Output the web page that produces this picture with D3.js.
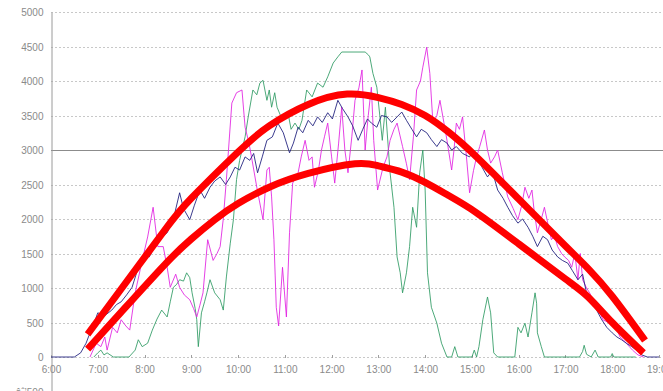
<!DOCTYPE html>
<html>
<head>
    <script src="https://d3js.org/d3.v7.min.js"></script>
    <style>
        body { margin: 0; background: #fff; overflow: hidden; }
        .tick-label { font-family: Arial, "Liberation Sans", sans-serif; font-size: 10px; fill: #8a8a8a; }
    </style>
</head>
<body>
<svg id="chart" width="663" height="391"></svg>
<script>
    const yTicks = [-500, 0, 500, 1000, 1500, 2000, 2500, 3000, 3500, 4000, 4500, 5000];
    const hourTicks = [6, 7, 8, 9, 10, 11, 12, 13, 14, 15, 16, 17, 18, 19];

    const navy = [
        ["6:00", 0], ["6:30", 0], ["6:38", 60], ["6:45", 200], ["6:48", 290], ["6:53", 420], ["7:00", 640],
        ["7:09", 600], ["7:18", 680], ["7:24", 760], ["7:30", 800], ["7:37", 900], ["7:44", 1010], ["7:52", 1300],
        ["8:00", 1500], ["8:06", 1450], ["8:13", 1600], ["8:22", 1740], ["8:29", 1800], ["8:37", 2000], ["8:45", 2380],
        ["8:50", 2150], ["8:58", 1990], ["9:04", 2200], ["9:11", 2420], ["9:17", 2300], ["9:24", 2460], ["9:30", 2550],
        ["9:37", 2610], ["9:44", 2500], ["9:50", 2610], ["9:56", 2750], ["10:02", 2710], ["10:09", 2900], ["10:15", 2850],
        ["10:20", 2950], ["10:25", 2670], ["10:31", 2900], ["10:37", 3140], ["10:44", 3190], ["10:51", 3390], ["10:58", 3250],
        ["11:06", 2960], ["11:11", 3100], ["11:17", 3330], ["11:23", 3250], ["11:30", 3430], ["11:36", 3350], ["11:42", 3480],
        ["11:48", 3400], ["11:55", 3540], ["12:01", 3450], ["12:08", 3720], ["12:14", 3600], ["12:21", 3480], ["12:27", 3350],
        ["12:34", 3140], ["12:40", 3300], ["12:46", 3450], ["12:51", 3390], ["12:58", 3330], ["13:04", 3500], ["13:11", 3480],
        ["13:17", 3400], ["13:24", 3480], ["13:30", 3550], ["13:36", 3430], ["13:43", 3300], ["13:49", 3190], ["13:55", 3300],
        ["14:02", 3250], ["14:08", 3150], ["14:15", 3050], ["14:21", 3150], ["14:28", 3100], ["14:34", 3000], ["14:40", 3050],
        ["14:48", 2950], ["14:57", 2900], ["15:02", 3000], ["15:07", 2900], ["15:13", 2750], ["15:20", 2610], ["15:26", 2700],
        ["15:33", 2420], ["15:40", 2300], ["15:46", 2170], ["15:52", 2050], ["15:59", 1940], ["16:05", 2000], ["16:12", 1880],
        ["16:18", 1750], ["16:24", 1600], ["16:31", 1750], ["16:37", 1700], ["16:43", 1550], ["16:50", 1450], ["16:56", 1400],
        ["17:03", 1360], ["17:09", 1250], ["17:16", 1120], ["17:22", 1200], ["17:27", 930], ["17:33", 800], ["17:40", 680],
        ["17:46", 550], ["17:53", 430], ["18:00", 350], ["18:06", 290], ["18:12", 250], ["18:18", 200], ["18:25", 150],
        ["18:31", 100], ["18:38", 30], ["18:45", 0], ["19:00", 0]
    ];

    const magenta = [
        ["6:50", 0], ["6:58", 200], ["7:04", 150], ["7:09", 290], ["7:12", 100], ["7:19", 430], ["7:25", 350], ["7:30", 540],
        ["7:36", 450], ["7:41", 390], ["7:48", 930], ["7:57", 1400], ["8:04", 1740], ["8:11", 2170], ["8:17", 1600],
        ["8:24", 1600], ["8:29", 1300], ["8:33", 1010], ["8:40", 1200], ["8:45", 1010], ["8:51", 900], ["8:58", 830],
        ["9:03", 700], ["9:07", 580], ["9:11", 750], ["9:15", 930], ["9:21", 1700], ["9:28", 1400], ["9:33", 1500],
        ["9:37", 1600], ["9:41", 2000], ["9:45", 2570], ["9:52", 3680], ["9:58", 3830], ["10:05", 3870], ["10:09", 3330],
        ["10:14", 3100], ["10:18", 2850], ["10:24", 2460], ["10:32", 1990], ["10:37", 2710], ["10:40", 2750], ["10:43", 2320],
        ["10:46", 1700], ["10:49", 720], ["10:52", 450], ["10:57", 1300], ["11:02", 580], ["11:06", 1800], ["11:10", 2520],
        ["11:17", 2670], ["11:21", 2900], ["11:26", 3140], ["11:31", 2850], ["11:35", 2900], ["11:38", 2460], ["11:43", 2700],
        ["11:47", 3000], ["11:51", 3200], ["11:55", 3390], ["12:00", 2900], ["12:04", 2520], ["12:09", 3100], ["12:13", 3620],
        ["12:17", 3000], ["12:21", 2670], ["12:26", 3200], ["12:30", 3720], ["12:35", 3900], ["12:39", 4160], ["12:43", 3000],
        ["12:47", 3500], ["12:51", 3910], ["12:54", 3140], ["12:59", 2420], ["13:06", 2750], ["13:11", 2900], ["13:15", 3140],
        ["13:20", 3300], ["13:24", 3390], ["13:31", 3050], ["13:36", 2800], ["13:40", 2570], ["13:45", 3200], ["13:49", 3870],
        ["13:54", 4000], ["13:57", 4200], ["14:02", 4490], ["14:06", 4110], ["14:10", 3390], ["14:15", 3500], ["14:19", 3720],
        ["14:24", 3400], ["14:28", 3140], ["14:34", 2710], ["14:37", 3000], ["14:40", 3390], ["14:44", 3300], ["14:48", 3480],
        ["14:53", 2900], ["14:57", 2380], ["15:02", 2700], ["15:06", 2900], ["15:10", 3050], ["15:16", 3290], ["15:20", 3000],
        ["15:24", 2810], ["15:29", 2900], ["15:33", 3000], ["15:39", 2670], ["15:46", 2320], ["15:53", 2150], ["15:59", 1990],
        ["16:04", 2200], ["16:08", 2460], ["16:13", 2300], ["16:17", 2420], ["16:20", 2100], ["16:24", 1800], ["16:29", 2000],
        ["16:33", 2170], ["16:38", 1900], ["16:42", 1700], ["16:46", 1750], ["16:50", 1600], ["16:55", 1500], ["16:59", 1450],
        ["17:04", 1400], ["17:08", 1300], ["17:12", 1500], ["17:16", 1120], ["17:19", 1500], ["17:22", 1120], ["17:27", 1000],
        ["17:31", 930], ["17:36", 800], ["17:40", 720], ["17:44", 650], ["17:48", 540], ["17:55", 500], ["18:01", 490],
        ["18:06", 400], ["18:10", 290], ["18:14", 250], ["18:18", 200], ["18:22", 150], ["18:26", 100], ["18:33", 30],
        ["18:40", 0]
    ];

    const green = [
        ["6:55", 0], ["7:00", 60], ["7:04", 100], ["7:08", 30], ["7:12", 60], ["7:20", 0], ["7:40", 0], ["7:48", 100],
        ["7:52", 250], ["7:57", 150], ["8:04", 200], ["8:10", 390], ["8:16", 550], ["8:22", 680], ["8:29", 580], ["8:33", 800],
        ["8:37", 1010], ["8:41", 1050], ["8:45", 1120], ["8:50", 1100], ["8:54", 1220], ["8:58", 1150], ["9:01", 930],
        ["9:05", 700], ["9:07", 540], ["9:09", 150], ["9:13", 640], ["9:17", 800], ["9:20", 930], ["9:24", 1120], ["9:30", 930],
        ["9:37", 830], ["9:41", 680], ["9:45", 1160], ["9:50", 1650], ["9:54", 1990], ["9:58", 2570], ["10:02", 2850],
        ["10:09", 3190], ["10:13", 3480], ["10:19", 3870], ["10:24", 3800], ["10:28", 3970], ["10:32", 4010], ["10:37", 3720],
        ["10:40", 3870], ["10:43", 3620], ["10:47", 3830], ["10:50", 3620], ["10:57", 3430], ["11:04", 3540], ["11:08", 3300],
        ["11:13", 3390], ["11:18", 3300], ["11:22", 3430], ["11:28", 3870], ["11:35", 3770], ["11:42", 3970], ["11:49", 3910],
        ["11:55", 4060], ["12:02", 4260], ["12:08", 4350], ["12:13", 4420], ["12:43", 4420], ["12:47", 4380], ["12:49", 4350],
        ["12:53", 4110], ["12:58", 3910], ["13:02", 3480], ["13:05", 3140], ["13:09", 3620], ["13:15", 2670], ["13:20", 2170],
        ["13:24", 1450], ["13:28", 1220], ["13:31", 930], ["13:36", 1220], ["13:40", 1600], ["13:44", 2170], ["13:49", 1880],
        ["13:53", 2670], ["13:57", 3000], ["14:00", 2420], ["14:03", 1220], ["14:08", 720], ["14:15", 490], ["14:21", 200],
        ["14:28", 0], ["14:34", 0], ["14:38", 150], ["14:42", 0], ["15:00", 0], ["15:03", 100], ["15:06", 0], ["15:09", 150],
        ["15:14", 540], ["15:20", 870], ["15:24", 640], ["15:28", 60], ["15:33", 0], ["15:55", 0], ["15:59", 430],
        ["16:03", 350], ["16:08", 490], ["16:12", 290], ["16:17", 640], ["16:21", 930], ["16:23", 780], ["16:24", 350],
        ["16:29", 150], ["16:33", 0], ["17:18", 0], ["17:22", 80], ["17:24", 170], ["17:27", 40], ["17:33", 0], ["17:38", 100],
        ["17:42", 0], ["17:58", 0], ["18:00", 50], ["18:02", 0], ["18:30", 0]
    ];

    // hand-drawn red envelope curves
    const upperCurve = [
        ["6:47", 330], ["7:30", 985], ["8:26", 1840], ["9:00", 2300], ["10:00", 2970], ["10:40", 3350],
        ["11:30", 3660], ["12:20", 3810], ["13:00", 3760], ["13:30", 3660], ["14:00", 3500], ["14:30", 3260],
        ["15:06", 2900], ["16:00", 2290], ["17:00", 1610], ["17:30", 1270], ["18:00", 880], ["18:42", 240]
    ];

    const lowerCurve = [
        ["6:47", 115], ["7:30", 650], ["8:26", 1340], ["9:00", 1710], ["9:30", 1990], ["10:00", 2225], ["10:40", 2460],
        ["11:30", 2660], ["12:30", 2800], ["13:00", 2770], ["13:30", 2680], ["14:00", 2530], ["14:30", 2340],
        ["15:06", 2090], ["16:00", 1640], ["17:00", 1130], ["17:30", 860], ["18:00", 500], ["18:40", 60]
    ];

    const toHours = t => {
        const [h, m] = t.split(":").map(Number);
        return h + m / 60;
    };

    const svg = d3.select("#chart");
    const x = d3.scaleLinear().domain([6, 19]).range([51, 659]);
    const y = d3.scaleLinear().domain([-500, 5000]).range([391.5, 12]);

    // gridlines
    svg.append("g").selectAll("line")
        .data(yTicks.filter(d => d >= 0))
        .enter().append("line")
        .attr("x1", 51).attr("x2", 663)
        .attr("y1", d => Math.round(y(d)) + 0.5).attr("y2", d => Math.round(y(d)) + 0.5)
        .attr("stroke", d => d === 3000 ? "#8c8c8c" : "#c8c8c8")
        .attr("stroke-dasharray", d => d === 3000 ? null : "2,2");

    // y axis
    const yAxis = d3.axisLeft(y).tickValues(yTicks).tickSize(0).tickPadding(8).tickFormat(d3.format("d"));
    const yg = svg.append("g").attr("transform", "translate(51.5,0)").call(yAxis);
    yg.select(".domain").attr("stroke", "#9a9a9a");
    yg.selectAll("text").attr("class", "tick-label").attr("dy", "0.35em");

    // x axis labels along the 0 line
    const xAxis = d3.axisBottom(x).tickValues(hourTicks).tickSize(0).tickPadding(9)
        .tickFormat(d => d + ":00");
    const xg = svg.append("g").attr("transform", `translate(0,${Math.round(y(0))})`).call(xAxis);
    xg.select(".domain").remove();
    xg.selectAll("text").attr("class", "tick-label");
    svg.append("g").selectAll("line")
        .data(hourTicks)
        .enter().append("line")
        .attr("x1", d => Math.round(x(d)) + 0.5).attr("x2", d => Math.round(x(d)) + 0.5)
        .attr("y1", Math.round(y(0)) - 2).attr("y2", Math.round(y(0)) + 1)
        .attr("stroke", "#a0a0a0");

    const line = d3.line().x(d => x(toHours(d[0]))).y(d => y(d[1]));
    const smooth = d3.line().x(d => x(toHours(d[0]))).y(d => y(d[1])).curve(d3.curveNatural);

    const series = [
        { data: green, color: "#2e9a63" },
        { data: magenta, color: "#e020e0" },
        { data: navy, color: "#1a1a7a" }
    ];
    svg.append("g").selectAll("path")
        .data(series)
        .enter().append("path")
        .attr("d", d => line(d.data))
        .attr("fill", "none")
        .attr("stroke", d => d.color)
        .attr("stroke-width", 1)
        .attr("stroke-opacity", 0.85);

    svg.append("g").selectAll("path")
        .data([upperCurve, lowerCurve])
        .enter().append("path")
        .attr("d", d => smooth(d))
        .attr("fill", "none")
        .attr("stroke", "#ff0000")
        .attr("stroke-width", 7);
</script>
</body>
</html>
